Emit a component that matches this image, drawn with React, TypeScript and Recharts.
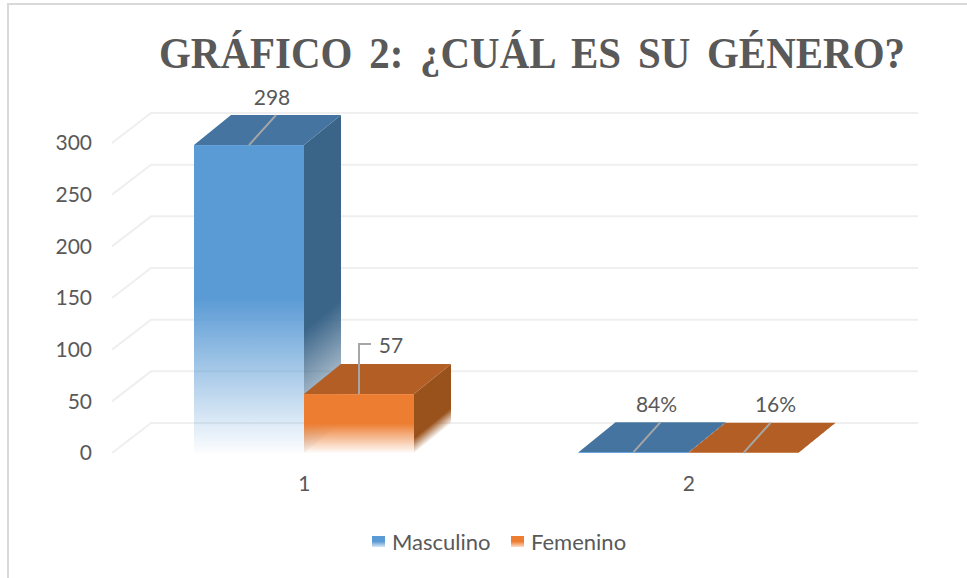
import React from "react";
import { BarChart, Bar, XAxis, YAxis, CartesianGrid, LabelList, Legend } from "recharts";

const categories = ["1", "2"];
const masculino = [298, 0.84];
const femenino = [57, 0.16];
const masculinoLabels = ["298", "84%"];
const femeninoLabels = ["57", "16%"];
const yTicks = [0, 50, 100, 150, 200, 250, 300];

const rows = categories.map((name, i) => ({
  name,
  Masculino: masculino[i],
  Femenino: femenino[i],
  masculinoLabel: masculinoLabels[i],
  femeninoLabel: femeninoLabels[i],
}));

const DX = 37;
const DY = 30;
const TEXT = "#595959";
const FONT = "Lato, Carlito, sans-serif";

const palette: Record<string, { front: string; top: string; side: string; fade: number }> = {
  blue: { front: "#5B9BD5", top: "#44749F", side: "#3A6488", fade: 0.4 },
  orange: { front: "#ED7D31", top: "#B35E24", side: "#9A521C", fade: 0.25 },
};

function box(kind: string) {
  return function Shape(props: any) {
    const { x, y, width, height, index } = props;
    const c = palette[kind];
    const bottom = y + height;
    const id = `side-${kind}-${index}`;
    const span = height * c.fade;
    const nx = 30 / 47.6;
    const ny = 37 / 47.6;
    const len = span * ny;
    return (
      <g>
        <defs>
          <linearGradient
            id={id}
            gradientUnits="userSpaceOnUse"
            x1={x + width}
            y1={bottom - span}
            x2={x + width + nx * len}
            y2={bottom - span + ny * len}
          >
            <stop offset="0%" stopColor={c.side} stopOpacity={1} />
            <stop offset="100%" stopColor={c.side} stopOpacity={0.05} />
          </linearGradient>
        </defs>
        <path
          d={`M${x + width},${y}L${x + width + DX},${y - DY}L${x + width + DX},${bottom - DY}L${x + width},${bottom}Z`}
          fill={`url(#${id})`}
        />
        <path d={`M${x},${y}L${x + DX},${y - DY}L${x + width + DX},${y - DY}L${x + width},${y}Z`} fill={c.top} />
        <rect x={x} y={y} width={width} height={height} fill={`url(#front-${kind})`} />
      </g>
    );
  };
}

function wallLine(props: any) {
  const { x1, x2, y1, key } = props;
  return (
    <path
      key={key}
      d={`M${x1},${y1}L${x1 + DX + 2},${y1 - DY}L${x2 + DX},${y1 - DY}`}
      fill="none"
      stroke="#EFEFEF"
      strokeWidth={2}
    />
  );
}

function leaderLabel(kind: string) {
  return function Leader(props: any) {
    const { x, y, width, value, index } = props;
    const mx = x + width / 2;
    const elbow = kind === "orange" && index === 0;
    const line = elbow
      ? `M${mx},${y}L${mx},${y - 50}L${mx + 12},${y - 50}`
      : `M${mx},${y}L${mx + 27},${y - 30}`;
    const tx = elbow ? mx + 32 : mx + (kind === "orange" ? 32 : 23);
    const ty = elbow ? y - 50 : y - 49;
    return (
      <g>
        <path d={line} fill="none" stroke="#A6A6A6" strokeWidth={2} />
        <text x={tx} y={ty} textAnchor="middle" dominantBaseline="central" fontFamily={FONT} fontSize={21} fill={TEXT}>
          {value}
        </text>
      </g>
    );
  };
}

function legendContent(props: any) {
  const items = props.payload || [];
  const lefts = [372, 511];
  const swatches: Record<string, string> = {
    Masculino: "linear-gradient(#5B9BD5 50%, #d6e6f5)",
    Femenino: "linear-gradient(#ED7D31 50%, #fbdcc8)",
  };
  return (
    <div style={{ position: "absolute", left: 0, top: 0 }}>
      {items.map((it: any, i: number) => (
        <div key={it.value} style={{ position: "absolute", left: lefts[i], top: 528, whiteSpace: "nowrap", fontFamily: FONT, fontSize: 22, lineHeight: "28px", color: TEXT }}>
          <span style={{ position: "absolute", left: 0, top: 8, width: 13, height: 11, background: swatches[it.value] }} />
          <span style={{ marginLeft: 20 }}>{it.value}</span>
        </div>
      ))}
    </div>
  );
}

export default function App() {
  return (
    <div style={{ position: "absolute", left: 0, top: 0, width: 967, height: 578, background: "#fff", overflow: "hidden" }}>
      <div style={{ position: "absolute", left: 7, top: 3, width: 970, height: 600, border: "2px solid #D9D9D9", boxSizing: "border-box" }} />
      <div style={{ position: "absolute", left: 0, top: 0 }}>
        <BarChart
          width={967}
          height={578}
          data={rows}
          margin={{ top: 143, right: 86, bottom: 0, left: 0 }}
          barSize={110}
          barGap={0}
        >
          <defs>
            <linearGradient id="front-blue" x1="0" y1="0" x2="0" y2="1">
              <stop offset="50%" stopColor="#5B9BD5" stopOpacity={1} />
              <stop offset="100%" stopColor="#5B9BD5" stopOpacity={0.02} />
            </linearGradient>
            <linearGradient id="front-orange" x1="0" y1="0" x2="0" y2="1">
              <stop offset="50%" stopColor="#ED7D31" stopOpacity={1} />
              <stop offset="100%" stopColor="#ED7D31" stopOpacity={0.02} />
            </linearGradient>
          </defs>
          <text
            x={159}
            y={68}
            fontFamily="'Liberation Serif', serif"
            fontWeight={700}
            fontSize={44}
            wordSpacing={7}
            fill={TEXT}
            textLength={746}
            lengthAdjust="spacingAndGlyphs"
          >
            GRÁFICO 2: ¿CUÁL ES SU GÉNERO?
          </text>
          <CartesianGrid horizontal={wallLine as any} vertical={false} />
          <XAxis dataKey="name" axisLine={false} tickLine={false} height={125} tickMargin={17} tick={{ fontFamily: FONT, fontSize: 21, fill: TEXT }} />
          <YAxis
            domain={[0, 300]}
            ticks={yTicks}
            width={112}
            axisLine={false}
            tickLine={false}
            tickMargin={14}
            tick={{ fontFamily: FONT, fontSize: 21, fill: TEXT }}
          />
          <Legend content={legendContent as any} itemSorter={null as any} wrapperStyle={{ left: 0, top: 0, width: 0, height: 0 }} />
          <Bar dataKey="Masculino" fill="#5B9BD5" shape={box("blue") as any} isAnimationActive={false}>
            <LabelList dataKey="masculinoLabel" content={leaderLabel("blue") as any} />
          </Bar>
          <Bar dataKey="Femenino" fill="#ED7D31" shape={box("orange") as any} isAnimationActive={false}>
            <LabelList dataKey="femeninoLabel" content={leaderLabel("orange") as any} />
          </Bar>
        </BarChart>
      </div>
    </div>
  );
}
